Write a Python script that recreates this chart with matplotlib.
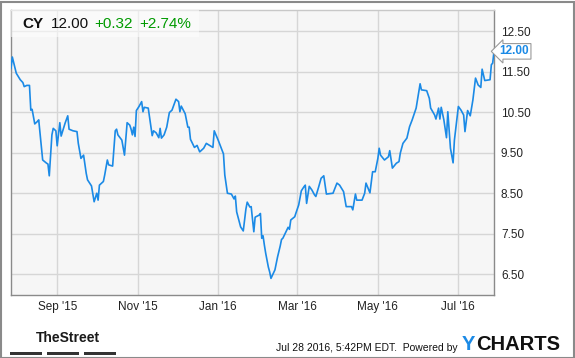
import matplotlib
matplotlib.use("Agg")
import matplotlib.pyplot as plt
from matplotlib.patches import Rectangle
import pandas as pd

plt.rcParams['font.family'] = ['Liberation Sans', 'DejaVu Sans']

# header values
ticker = "CY"
last_price = 12.00
change = "+0.32"
change_pct = "+2.74%"

# daily close
dates = [
    "2015-07-28", "2015-07-29", "2015-08-01", "2015-08-04", "2015-08-06", "2015-08-07",
    "2015-08-09", "2015-08-11", "2015-08-12", "2015-08-13", "2015-08-15", "2015-08-17",
    "2015-08-18", "2015-08-21", "2015-08-24", "2015-08-25", "2015-08-26", "2015-08-28",
    "2015-08-29", "2015-08-31", "2015-09-01", "2015-09-03", "2015-09-04", "2015-09-07",
    "2015-09-09", "2015-09-10", "2015-09-13", "2015-09-16", "2015-09-17", "2015-09-19",
    "2015-09-21", "2015-09-23", "2015-09-24", "2015-09-27", "2015-09-29", "2015-10-01",
    "2015-10-02", "2015-10-03", "2015-10-06", "2015-10-07", "2015-10-09", "2015-10-10",
    "2015-10-13", "2015-10-15", "2015-10-16", "2015-10-17", "2015-10-20", "2015-10-22",
    "2015-10-24", "2015-10-26", "2015-10-27", "2015-10-28", "2015-10-29", "2015-10-30",
    "2015-10-31", "2015-11-02", "2015-11-04", "2015-11-05", "2015-11-06", "2015-11-09",
    "2015-11-12", "2015-11-13", "2015-11-15", "2015-11-17", "2015-11-18", "2015-11-19",
    "2015-11-21", "2015-11-23", "2015-11-25", "2015-11-27", "2015-11-30", "2015-12-02",
    "2015-12-03", "2015-12-04", "2015-12-07", "2015-12-09", "2015-12-10", "2015-12-11",
    "2015-12-14", "2015-12-16", "2015-12-18", "2015-12-21", "2015-12-23", "2015-12-28",
    "2015-12-29", "2016-01-01", "2016-01-05", "2016-01-06", "2016-01-08", "2016-01-11",
    "2016-01-13", "2016-01-14", "2016-01-15", "2016-01-18", "2016-01-20", "2016-01-22",
    "2016-01-23", "2016-01-25", "2016-01-26", "2016-01-28", "2016-01-29", "2016-02-01",
    "2016-02-02", "2016-02-03", "2016-02-04", "2016-02-05", "2016-02-06", "2016-02-08",
    "2016-02-09", "2016-02-10", "2016-02-13", "2016-02-15", "2016-02-17", "2016-02-18",
    "2016-02-19", "2016-02-22", "2016-02-23", "2016-02-24", "2016-02-25", "2016-02-28",
    "2016-02-29", "2016-03-02", "2016-03-04", "2016-03-06", "2016-03-07", "2016-03-08",
    "2016-03-10", "2016-03-12", "2016-03-14", "2016-03-15", "2016-03-17", "2016-03-19",
    "2016-03-21", "2016-03-23", "2016-03-28", "2016-03-31", "2016-04-02", "2016-04-05",
    "2016-04-07", "2016-04-11", "2016-04-12", "2016-04-14", "2016-04-15", "2016-04-19",
    "2016-04-21", "2016-04-22", "2016-04-25", "2016-04-27", "2016-04-29", "2016-05-01",
    "2016-05-02", "2016-05-03", "2016-05-06", "2016-05-09", "2016-05-10", "2016-05-12",
    "2016-05-15", "2016-05-17", "2016-05-18", "2016-05-20", "2016-05-23", "2016-05-25",
    "2016-05-27", "2016-05-30", "2016-06-02", "2016-06-03", "2016-06-07", "2016-06-09",
    "2016-06-10", "2016-06-13", "2016-06-14", "2016-06-16", "2016-06-17", "2016-06-18",
    "2016-06-20", "2016-06-22", "2016-06-23", "2016-06-25", "2016-06-27", "2016-06-28",
    "2016-07-01", "2016-07-03", "2016-07-05", "2016-07-06", "2016-07-08", "2016-07-10",
    "2016-07-12", "2016-07-14", "2016-07-16", "2016-07-18", "2016-07-19", "2016-07-21",
    "2016-07-25", "2016-07-26", "2016-07-27", "2016-07-28",
]
prices = [
    11.58, 11.86, 11.46, 11.30, 11.23, 11.13,
    11.16, 11.16, 10.55, 10.57, 10.21, 10.27,
    10.31, 9.32, 9.24, 9.22, 8.93, 9.94,
    10.10, 10.04, 9.67, 10.24, 9.91, 10.23,
    10.41, 10.08, 10.04, 10.02, 9.73, 9.36,
    9.44, 8.99, 8.83, 8.68, 8.29, 8.50,
    8.33, 8.70, 8.79, 8.95, 9.32, 9.20,
    9.17, 10.04, 10.08, 9.94, 9.81, 9.44,
    10.24, 10.18, 10.08, 9.94, 10.13, 9.90,
    10.54, 10.64, 10.76, 10.51, 10.62, 10.60,
    9.92, 10.04, 9.99, 9.87, 10.10, 9.86,
    9.94, 10.13, 10.49, 10.55, 10.82, 10.76,
    10.51, 10.65, 10.46, 10.13, 10.13, 9.83,
    9.63, 9.68, 9.52, 9.61, 9.73, 9.63,
    10.04, 9.81, 9.47, 8.95, 8.50, 8.48,
    8.36, 8.43, 8.04, 7.67, 7.57, 8.11,
    8.28, 8.16, 8.17, 7.55, 7.91, 7.96,
    8.00, 7.39, 7.45, 7.22, 7.02, 6.68,
    6.56, 6.40, 6.61, 6.93, 7.20, 7.36,
    7.39, 7.59, 7.66, 7.61, 7.84, 7.92,
    8.02, 8.21, 8.56, 8.66, 8.70, 8.25,
    8.67, 8.58, 8.46, 8.42, 8.64, 8.87,
    8.93, 8.48, 8.50, 8.75, 8.70, 8.54,
    8.17, 8.17, 8.09, 8.48, 8.33, 8.33,
    8.50, 8.75, 8.51, 9.03, 9.03, 9.36,
    9.61, 9.44, 9.32, 9.40, 9.55, 9.12,
    9.24, 9.28, 9.49, 9.73, 9.86, 10.14,
    10.31, 10.60, 11.20, 11.05, 11.03, 10.84,
    10.60, 10.43, 10.33, 10.60, 10.33, 10.62,
    10.31, 9.87, 10.51, 9.61, 9.25, 9.81,
    10.64, 10.55, 10.43, 10.02, 10.54, 10.41,
    10.80, 11.34, 11.17, 11.11, 11.56, 11.28,
    11.30, 11.67, 11.71, 12.00,
]

tick_dates = ["2015-09-01", "2015-11-01", "2016-01-01", "2016-03-01", "2016-05-01", "2016-07-01"]
tick_labels = ["Sep '15", "Nov '15", "Jan '16", "Mar '16", "May '16", "Jul '16"]
y_ticks = [6.5, 7.5, 8.5, 9.5, 10.5, 11.5, 12.5]

x = pd.to_datetime(dates)

W, H = 575, 358
fig = plt.figure(figsize=(W / 100, H / 100), dpi=100)
fig.patch.set_facecolor('white')

# plot area in pixels: x 11..494, y 10..295
ax = fig.add_axes([11 / W, 1 - 295 / H, 483 / W, 285 / H])
ax.set_facecolor('#f6f6f6')

ax.plot(x, prices, color='#1b8ae6', linewidth=1.2, zorder=3)

ax.set_xlim(x[0], x[-1])
ax.set_ylim(5.99, 13.02)

ax.set_xticks(pd.to_datetime(tick_dates))
ax.set_xticklabels(tick_labels)
ax.set_yticks(y_ticks)
ax.set_yticklabels([f"{v:.2f}" for v in y_ticks])
ax.yaxis.tick_right()
ax.tick_params(axis='both', length=0, labelsize=8.5, colors='#222222')
ax.tick_params(axis='y', pad=5)
ax.tick_params(axis='x', pad=4)

ax.grid(True, color='#d6d6d6', linewidth=1.0)
ax.set_axisbelow(True)
for side in ['left', 'bottom', 'right']:
    ax.spines[side].set_color('#8a8a8a')
    ax.spines[side].set_linewidth(1.0)
ax.spines['top'].set_color('#c8c8c8')
ax.spines['top'].set_linewidth(1.0)

# header box
ax.add_patch(Rectangle((0, 1 - 27 / 285), 188 / 483, 27 / 285, transform=ax.transAxes,
                       facecolor='white', alpha=0.55, edgecolor='none', zorder=4))
hy = 1 - 14 / 285
ax.text(11 / 483, hy, ticker, transform=ax.transAxes, fontsize=11, fontweight='bold',
        color='#111111', va='center', zorder=5)
ax.text(40 / 483, hy, f"{last_price:.2f}", transform=ax.transAxes, fontsize=11,
        color='#111111', va='center', zorder=5)
ax.text(83 / 483, hy, change, transform=ax.transAxes, fontsize=11,
        color='#009a00', va='center', zorder=5)
ax.text(128 / 483, hy, change_pct, transform=ax.transAxes, fontsize=11,
        color='#009a00', va='center', zorder=5)

# last price tag
ax.annotate(f"{prices[-1]:.2f}", xy=(x[-1], prices[-1]), xytext=(4, 0),
            textcoords='offset points', ha='left', va='center', fontsize=8.5,
            fontweight='bold', color='#1b8ae6', annotation_clip=False, zorder=6,
            bbox=dict(boxstyle='larrow,pad=0.15', facecolor='white',
                      edgecolor='#9a9a9a', linewidth=0.8))

# footer
fig.text(36 / W, 1 - 338 / H, "TheStreet", fontsize=10, fontweight='bold',
         color='#1a1a1a', va='center', ha='left',
         family=['Liberation Sans Narrow', 'Liberation Sans', 'DejaVu Sans'])
for x0, x1 in [(10, 42), (47, 79), (84, 116)]:
    fig.add_artist(Rectangle((x0 / W, 1 - 355 / H), (x1 - x0) / W, 3.5 / H,
                             transform=fig.transFigure, facecolor='#333333',
                             edgecolor='none'))
fig.text(276 / W, 1 - 348 / H, "Jul 28 2016, 5:42PM EDT.  Powered by", fontsize=7.5,
         color='#111111', va='center', ha='left')
fig.text(462 / W, 1 - 345 / H, "Y", fontsize=14.5, fontweight='bold',
         color='#1b8ae6', va='center', ha='left')
fig.text(476.5 / W, 1 - 345 / H, "CHARTS", fontsize=14.5, fontweight='bold',
         color='#111111', va='center', ha='left')

# outer frame
fig.add_artist(Rectangle((0.5 / W, 0.5 / H), (W - 2) / W, (H - 2) / H,
                         transform=fig.transFigure, facecolor='none',
                         edgecolor='#8a8a8a', linewidth=1.5))

fig.savefig("out.png", dpi=100)
